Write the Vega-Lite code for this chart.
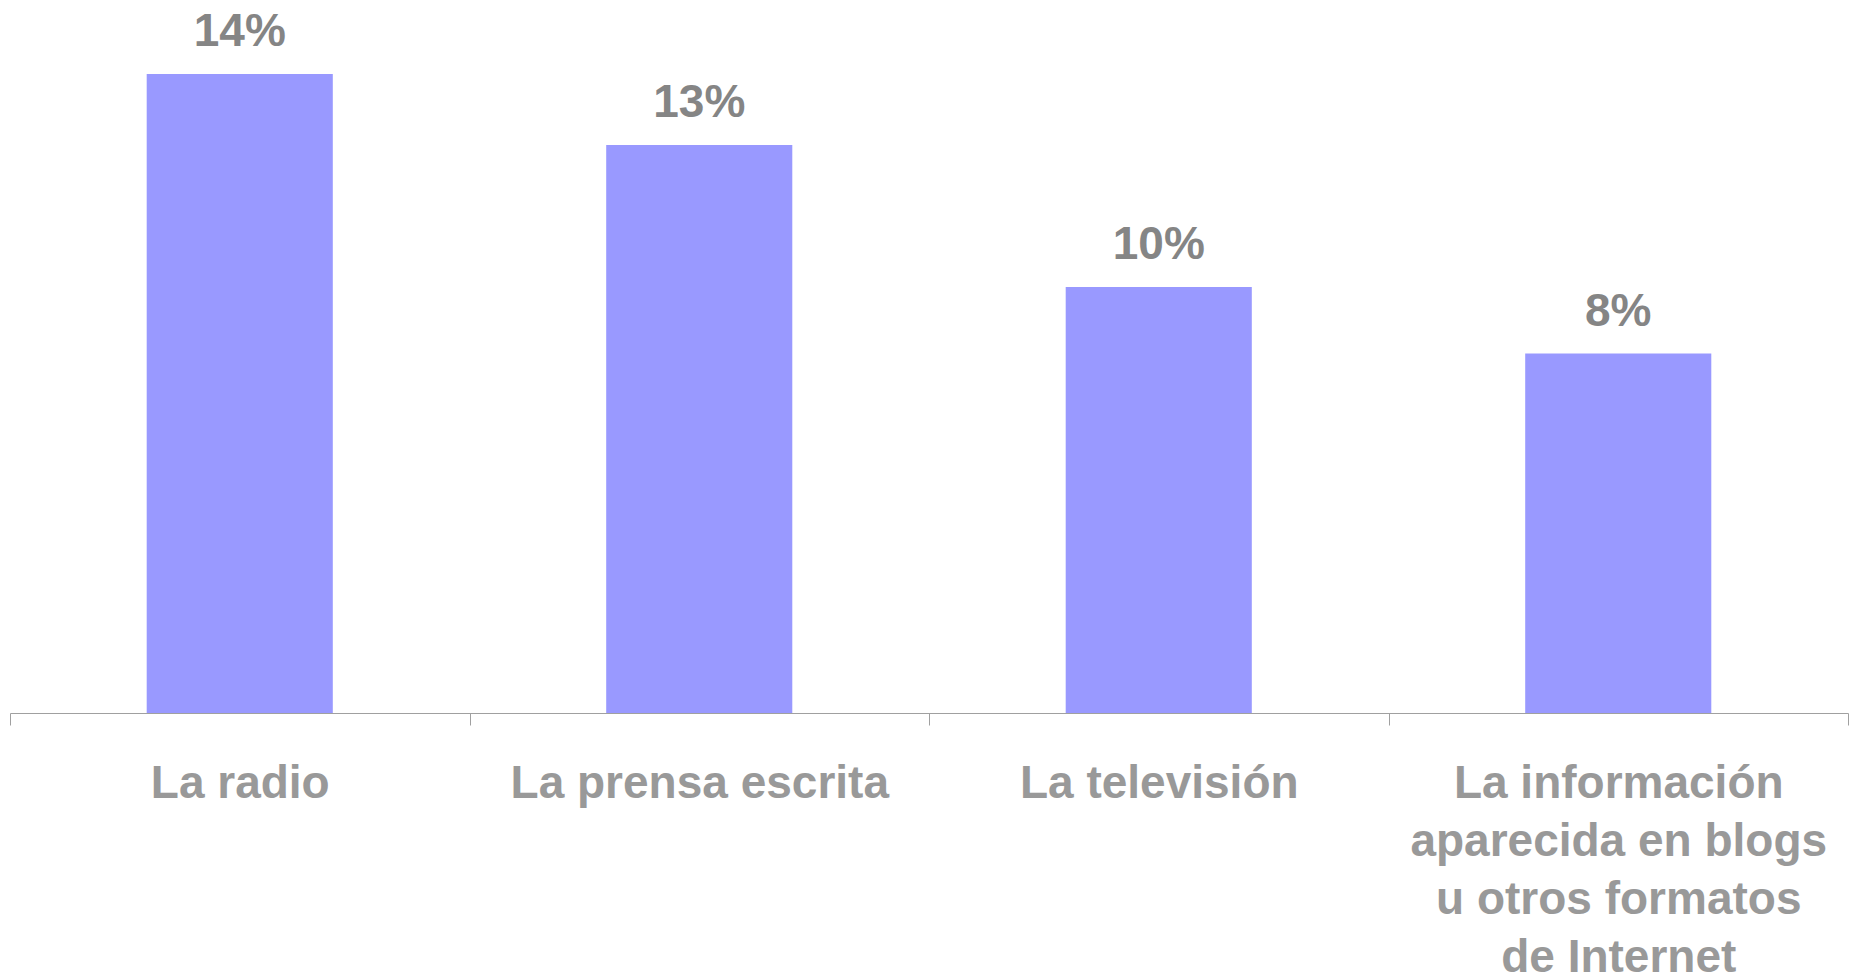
{
  "$schema": "https://vega.github.io/schema/vega-lite/v6.json",
  "autosize": {"type": "none"},
  "width": 1838,
  "height": 710,
  "padding": {"left": 10, "top": 3, "right": 8, "bottom": 265},
  "background": "white",
  "config": {"view": {"stroke": null}, "font": "Liberation Sans"},
  "data": {
    "values": [
      {"medio": "La radio", "valor": 0.144},
      {"medio": "La prensa escrita", "valor": 0.128},
      {"medio": "La televisión", "valor": 0.096},
      {"medio": "La información aparecida en blogs u otros formatos de Internet", "valor": 0.081}
    ]
  },
  "encoding": {
    "x": {
      "field": "medio",
      "type": "nominal",
      "sort": null,
      "scale": {"paddingInner": 0, "paddingOuter": 0},
      "axis": {
        "title": null,
        "labelAngle": 0,
        "tickBand": "extent",
        "tickSize": 12,
        "tickColor": "#a0a0a0",
        "domainColor": "#a0a0a0",
        "labelFont": "Liberation Sans",
        "labelFontWeight": "bold",
        "labelFontSize": 46,
        "labelColor": "#999999",
        "labelPadding": 36,
        "labelLineHeight": 58,
        "labelBaseline": "top",
        "labelLimit": 0,
        "labelExpr": "datum.value == 'La información aparecida en blogs u otros formatos de Internet' ? ['La información', 'aparecida en blogs', 'u otros formatos', 'de Internet'] : datum.label"
      }
    },
    "y": {
      "field": "valor",
      "type": "quantitative",
      "scale": {"domain": [0, 0.16], "nice": false},
      "axis": null
    }
  },
  "layer": [
    {"mark": {"type": "bar", "color": "#9999ff", "width": {"band": 0.405}}},
    {
      "mark": {
        "type": "text",
        "baseline": "alphabetic",
        "dy": -28,
        "font": "Liberation Sans",
        "fontWeight": "bold",
        "fontSize": 46,
        "color": "#858585"
      },
      "encoding": {"text": {"field": "valor", "type": "quantitative", "format": ".0%"}}
    }
  ]
}
